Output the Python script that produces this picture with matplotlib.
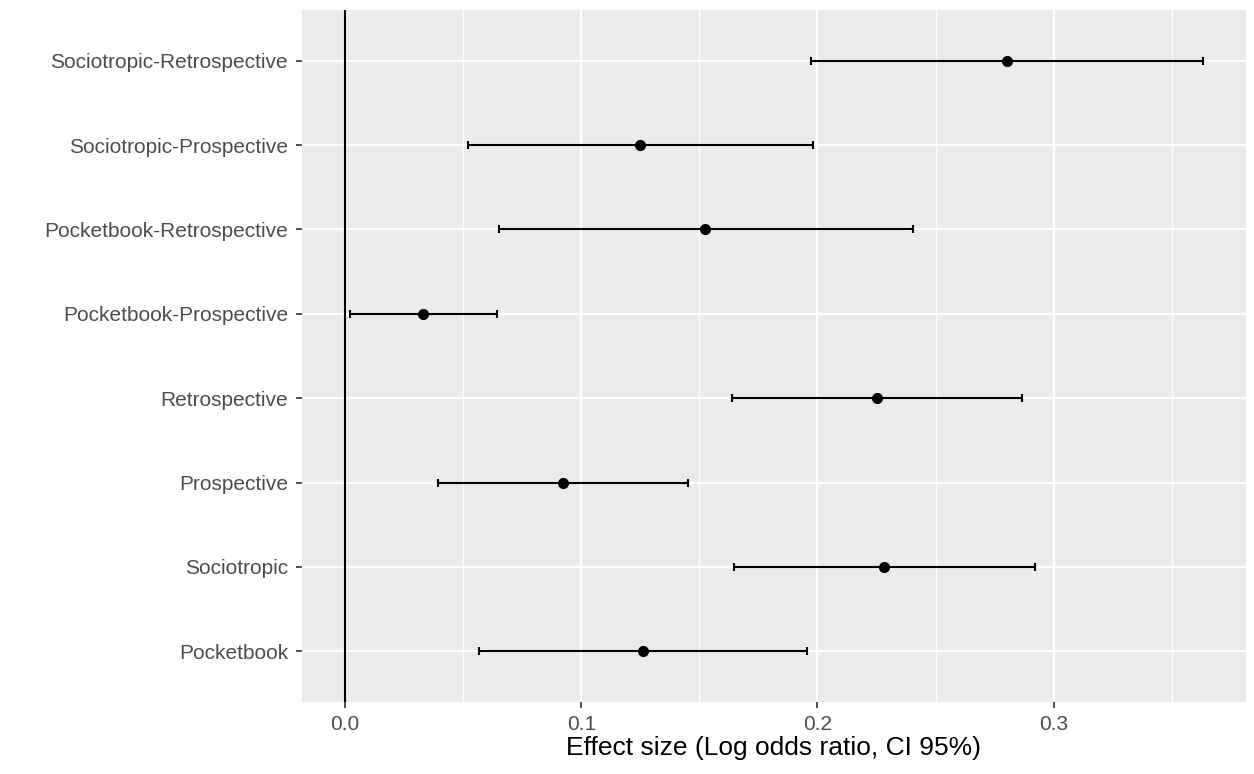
import matplotlib as mpl

mpl.use("Agg")
import matplotlib.pyplot as plt
import numpy as np
from matplotlib.ticker import FixedLocator

plt.rcParams["font.family"] = ["Liberation Sans", "DejaVu Sans"]

# bottom to top, as drawn
CATEGORIES = [
    "Pocketbook",
    "Sociotropic",
    "Prospective",
    "Retrospective",
    "Pocketbook-Prospective",
    "Pocketbook-Retrospective",
    "Sociotropic-Prospective",
    "Sociotropic-Retrospective",
]
ESTIMATE = [0.1260, 0.2283, 0.0921, 0.2253, 0.0332, 0.1525, 0.1251, 0.2803]
CI_LOW = [0.0567, 0.1645, 0.0394, 0.1639, 0.0022, 0.0654, 0.0523, 0.1973]
CI_HIGH = [0.1955, 0.2921, 0.1450, 0.2866, 0.0642, 0.2404, 0.1979, 0.3632]

MAJOR_X = [0.0, 0.1, 0.2, 0.3]
MINOR_X = [0.05, 0.15, 0.25, 0.35]
X_LABELS = ["0.0", "0.1", "0.2", "0.3"]

W, H = 1254, 774
fig = plt.figure(figsize=(W / 100, H / 100), dpi=100)
ax = fig.add_axes([302 / W, 1 - 702 / H, (1246 - 302) / W, (702 - 10) / H])

y = np.arange(len(CATEGORIES))
est = np.array(ESTIMATE)
lo = np.array(CI_LOW)
hi = np.array(CI_HIGH)

ax.set_facecolor("#EBEBEB")
for s in ax.spines.values():
    s.set_visible(False)

# ggplot-like grid
ax.xaxis.set_major_locator(FixedLocator(MAJOR_X))
ax.xaxis.set_minor_locator(FixedLocator(MINOR_X))
ax.grid(True, which="major", color="white", linewidth=1.6)
ax.grid(True, which="minor", axis="x", color="white", linewidth=0.8)
ax.set_axisbelow(True)

ax.axvline(0, color="black", linewidth=1.5, zorder=2)

ax.errorbar(est, y, xerr=[est - lo, hi - est], fmt="o", color="black",
            ecolor="black", elinewidth=1.5, capsize=3.2, capthick=1.5,
            markersize=7, zorder=3)

xmin, xmax = 0.0, hi.max()
pad = (xmax - xmin) * 0.05
ax.set_xlim(xmin - pad, xmax + pad)
ax.set_ylim(-0.6, len(CATEGORIES) - 1 + 0.6)

ax.set_yticks(y)
ax.set_yticklabels(CATEGORIES)
ax.set_xticklabels(X_LABELS)
ax.tick_params(axis="both", which="major", labelsize=15, labelcolor="#4D4D4D",
               color="#333333", length=4, width=1.2)
ax.tick_params(axis="x", which="minor", length=0)
ax.tick_params(axis="x", pad=5)
ax.tick_params(axis="y", pad=6)

ax.set_xlabel("Effect size (Log odds ratio, CI 95%)", fontsize=19, labelpad=2)

fig.savefig("out.png", dpi=100)
